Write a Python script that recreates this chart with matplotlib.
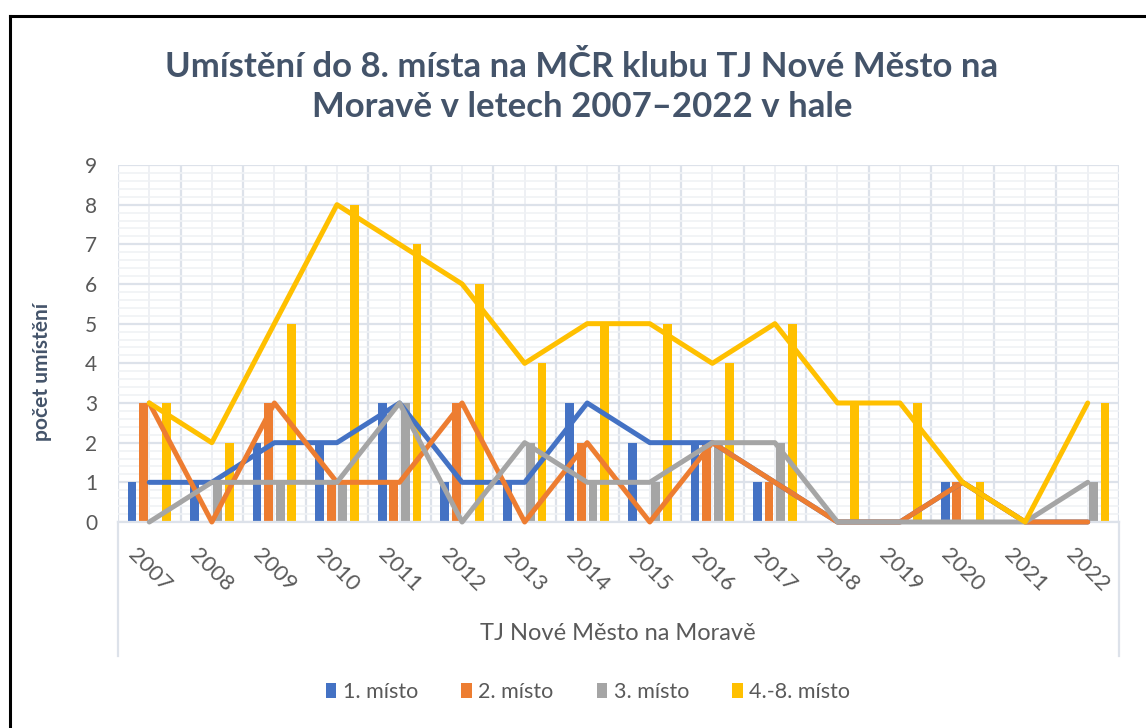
import matplotlib
matplotlib.use("Agg")
import matplotlib.pyplot as plt
from matplotlib.lines import Line2D
from matplotlib.patches import Patch
import numpy as np

plt.rcParams['font.family'] = ['Lato', 'DejaVu Sans']

years = ['2007', '2008', '2009', '2010', '2011', '2012', '2013', '2014',
         '2015', '2016', '2017', '2018', '2019', '2020', '2021', '2022']
first = [1, 1, 2, 2, 3, 1, 1, 3, 2, 2, 1, 0, 0, 1, 0, 0]
second = [3, 0, 3, 1, 1, 3, 0, 2, 0, 2, 1, 0, 0, 1, 0, 0]
third = [0, 1, 1, 1, 3, 0, 2, 1, 1, 2, 2, 0, 0, 0, 0, 1]
fourth_eighth = [3, 2, 5, 8, 7, 6, 4, 5, 5, 4, 5, 3, 3, 1, 0, 3]

series_names = ['1. místo', '2. místo', '3. místo', '4.-8. místo']
series = [first, second, third, fourth_eighth]
colors = ['#4472C4', '#ED7D31', '#A5A5A5', '#FFC000']

W, H = 1146, 728
fig = plt.figure(figsize=(W / 100, H / 100), dpi=100)
fig.patch.set_facecolor('white')

# plot area in pixels
left, right, top, bottom = 118, 1119, 165, 522
ax = fig.add_axes([left / W, 1 - bottom / H, (right - left) / W, (bottom - top) / H])

x = np.arange(len(years))
step = 0.185
bw = 0.14
for i, (vals, c) in enumerate(zip(series, colors)):
    ax.bar(x + (i - 1.5) * step, vals, width=bw, color=c, zorder=2)
for vals, c in zip(series, colors):
    ax.plot(x, vals, color=c, lw=3.6, solid_joinstyle='round',
            solid_capstyle='round', zorder=3, clip_on=False)

ax.set_xlim(-0.5, len(years) - 0.5)
ax.set_ylim(0, 9)
ax.set_yticks(range(10))
ax.set_yticks(np.arange(0, 9, 0.2), minor=True)
ax.set_xticks(x)
ax.set_xticks(np.arange(-0.5, len(years), 1), minor=True)
ax.set_xticklabels(years, rotation=-45, ha='center', va='top')

gc = '#DDE2EA'
ax.grid(True, which='major', axis='y', color=gc, lw=1.6, zorder=0)
ax.grid(True, which='minor', axis='y', color='#F0F2F5', lw=1.2, zorder=0)
ax.grid(True, which='minor', axis='x', color=gc, lw=1.6, zorder=0)
ax.grid(True, which='major', axis='x', color='#EEF0F4', lw=1.4, zorder=0)
ax.set_axisbelow(True)

for s in ['top', 'right', 'left']:
    ax.spines[s].set_visible(False)
ax.spines['bottom'].set_color(gc)
ax.spines['bottom'].set_linewidth(1.6)

ax.tick_params(axis='both', which='both', length=0, colors='#595959')
ax.tick_params(axis='y', labelsize=15, pad=15)
ax.tick_params(axis='x', labelsize=16, pad=16)

# category box lines under the axis
depth = (656 - bottom) / (bottom - top)
for xa in (0, 1):
    ax.plot([xa, xa], [0, -depth], transform=ax.transAxes, color=gc,
            lw=1.6, clip_on=False)

ax.set_ylabel('počet umístění', fontsize=15, fontweight='bold', color='#44546A')
ax.yaxis.set_label_coords((52 - left) / (right - left), (bottom - 372) / (bottom - top))

fig.text(618 / W, 1 - 633 / H, 'TJ Nové Město na Moravě', ha='center', va='center',
         fontsize=17, color='#595959')

fig.text(582 / W, 1 - 87 / H,
         'Umístění do 8. místa na MČR klubu TJ Nové Město na\nMoravě v letech 2007–2022 v hale',
         ha='center', va='center', fontsize=25, fontweight='bold', color='#44546A',
         linespacing=1.3)

handles = [Patch(facecolor=c, edgecolor='none') for c in colors]
fig.legend(handles, series_names, loc='center', bbox_to_anchor=(588 / W, 1 - 692 / H),
           ncol=4, frameon=False, fontsize=15.5, labelcolor='#595959',
           handlelength=0.5, handleheight=0.75, handletextpad=0.3, columnspacing=2.0)

# outer frame (top and left edges)
fig.add_artist(Line2D([10 / W, 1], [1 - 16 / H, 1 - 16 / H], color='black', lw=2.2))
fig.add_artist(Line2D([10 / W, 10 / W], [0, 1 - 16 / H], color='black', lw=2.2))

fig.savefig('out.png', dpi=100, facecolor='white')
